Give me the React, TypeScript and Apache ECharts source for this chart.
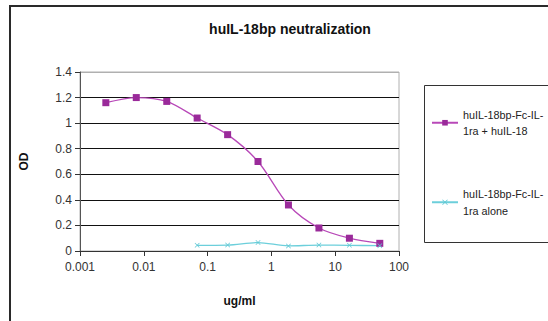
import React, { useEffect, useRef } from "react";
import * as echarts from "echarts";

const concentrations = [0.00254, 0.00762, 0.0229, 0.0686, 0.206, 0.617, 1.85, 5.56, 16.7, 50];
const withIL18 = [1.16, 1.2, 1.17, 1.04, 0.91, 0.7, 0.36, 0.18, 0.1, 0.06];
const aloneConc = [0.0686, 0.206, 0.617, 1.85, 5.56, 16.7, 50];
const alone = [0.044, 0.046, 0.066, 0.04, 0.046, 0.044, 0.042];
const xTickLabels = ["0.001", "0.01", "0.1", "1", "10", "100"];
const yTickLabels = ["0", "0.2", "0.4", "0.6", "0.8", "1", "1.2", "1.4"];
const seriesNames = ["huIL-18bp-Fc-IL-\n1ra + huIL-18", "huIL-18bp-Fc-IL-\n1ra alone"];

const FONT = "'Liberation Sans', Arial, sans-serif";

export default function App() {
  const ref = useRef<HTMLDivElement>(null);
  useEffect(() => {
    if (!ref.current) return;
    const chart = echarts.init(ref.current, null, { renderer: "svg" });
    const xIndex = (v: number) => Math.round(Math.log10(v) + 3);
    chart.setOption({
      animation: false,
      backgroundColor: "#ffffff",
      title: {
        text: "huIL-18bp neutralization",
        left: 285,
        top: 17,
        textAlign: "center",
        textStyle: { fontFamily: FONT, fontSize: 14, fontWeight: "bold", color: "#111" },
      },
      legend: {
        orient: "vertical",
        left: 431,
        top: 98,
        padding: 0,
        itemWidth: 26,
        itemHeight: 7,
        itemGap: 30,
        textStyle: {
          fontFamily: FONT,
          fontSize: 10.8,
          color: "#222",
          lineHeight: 16.5,
          padding: [16.5, 0, 0, 0],
        },
        data: seriesNames,
      },
      grid: {
        left: 80,
        right: 149,
        top: 72,
        bottom: 70,
        show: true,
        borderColor: "#b0b0b0",
        borderWidth: 1,
      },
      xAxis: {
        type: "log",
        logBase: 10,
        min: 0.001,
        max: 100,
        name: "ug/ml",
        nameLocation: "middle",
        nameGap: 44,
        nameTextStyle: { fontFamily: FONT, fontSize: 12, fontWeight: "bold", color: "#111" },
        axisLine: { lineStyle: { color: "#333", width: 1 } },
        axisTick: { show: true, length: 5, lineStyle: { color: "#333" } },
        axisLabel: {
          fontFamily: FONT,
          fontSize: 12,
          color: "#333",
          margin: 10,
          formatter: (v: number) => xTickLabels[xIndex(v)] ?? "",
        },
        splitLine: { show: false },
        minorTick: { show: false },
      },
      yAxis: {
        type: "value",
        min: 0,
        max: 1.4,
        interval: 0.2,
        name: "OD",
        nameLocation: "middle",
        nameGap: 50,
        nameTextStyle: { fontFamily: FONT, fontSize: 12, fontWeight: "bold", color: "#111" },
        axisLine: { show: true, lineStyle: { color: "#555", width: 1 } },
        axisTick: { show: true, length: 5, lineStyle: { color: "#333" } },
        axisLabel: {
          fontFamily: FONT,
          fontSize: 12,
          color: "#333",
          margin: 8,
          formatter: (v: number) => yTickLabels[Math.round(v / 0.2)] ?? "",
        },
        splitLine: {
          show: true,
          lineStyle: {
            color: ["#333", "#111", "#111", "#111", "#111", "#111", "#111", "#b0b0b0"],
            width: 1,
          },
        },
      },
      graphic: [
        {
          type: "rect",
          shape: { x: 10, y: 6, width: 700, height: 500 },
          style: { fill: "none", stroke: "#2a2a2a", lineWidth: 2 },
          silent: true,
        },
        {
          type: "rect",
          shape: { x: 424.5, y: 85.5, width: 300, height: 157 },
          style: { fill: "none", stroke: "#333", lineWidth: 1 },
          silent: true,
        },
      ],
      series: [
        {
          name: seriesNames[0],
          type: "line",
          smooth: 0.3,
          data: concentrations.map((c, i) => [c, withIL18[i]]),
          symbol: "rect",
          symbolSize: 7,
          lineStyle: { color: "#b848b8", width: 1.3 },
          itemStyle: { color: "#9a2a9a" },
        },
        {
          name: seriesNames[1],
          type: "line",
          smooth: 0.3,
          data: aloneConc.map((c, i) => [c, alone[i]]),
          symbol: "path://M0,1L1,0L5,4L9,0L10,1L6,5L10,9L9,10L5,6L1,10L0,9L4,5Z",
          symbolSize: 5,
          lineStyle: { color: "#6ccfdb", width: 1.3 },
          itemStyle: { color: "#60c8d4" },
        },
      ],
    });
    return () => chart.dispose();
  }, []);
  return (
    <div style={{ position: "absolute", left: 0, top: 0, width: 548, height: 321, overflow: "hidden", background: "#fff" }}>
      <div ref={ref} style={{ width: 548, height: 321 }} />
    </div>
  );
}
